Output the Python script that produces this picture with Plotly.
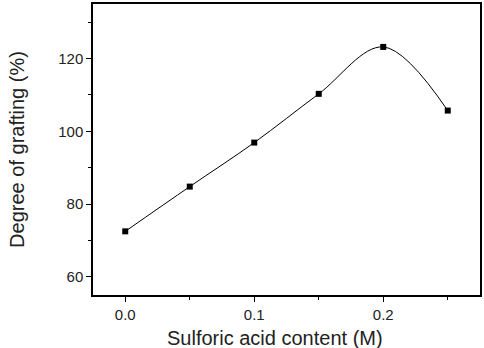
import plotly.graph_objects as go

acid = [0.0, 0.05, 0.10, 0.15, 0.20, 0.25]
grafting = [72.5, 84.8, 96.9, 110.3, 123.2, 105.7]

fig = go.Figure()
fig.add_trace(go.Scatter(
    x=acid, y=grafting, mode="lines+markers",
    line=dict(shape="spline", smoothing=1.0, color="black", width=1),
    marker=dict(symbol="square", size=6, color="black"),
    showlegend=False,
))

axis_common = dict(
    showline=True, linecolor="black", linewidth=1.5, mirror=True,
    ticks="outside", ticklen=5, tickcolor="black", tickwidth=1,
    showgrid=False, zeroline=False,
    tickfont=dict(family="Liberation Sans, Arial", size=15, color="#222"),
)

fig.update_xaxes(
    range=[-0.025, 0.275], tickvals=[0.0, 0.1, 0.2], ticktext=["0.0", "0.1", "0.2"],
    minor=dict(tickvals=[0.05, 0.15, 0.25], ticks="outside", ticklen=3, tickcolor="black"),
    ticklabelstandoff=0,
    **axis_common,
)
fig.update_yaxes(
    range=[55, 135], tickvals=[60, 80, 100, 120],
    minor=dict(tickvals=[70, 90, 110, 130], ticks="outside", ticklen=3, tickcolor="black"),
    title=dict(text="Degree of grafting (%)", standoff=28,
               font=dict(family="Liberation Sans, Arial", size=20, color="#222")),
    **axis_common,
)

fig.add_annotation(
    text="Sulforic acid content (M)", xref="paper", yref="paper",
    x=0.47, y=-0.148, xanchor="center", yanchor="middle", showarrow=False,
    font=dict(family="Liberation Sans, Arial", size=20, color="#222"),
)

fig.update_layout(
    width=484, height=348,
    margin=dict(l=93, r=2, t=4, b=53),
    plot_bgcolor="white", paper_bgcolor="white",
)

fig.write_html("out.html")
